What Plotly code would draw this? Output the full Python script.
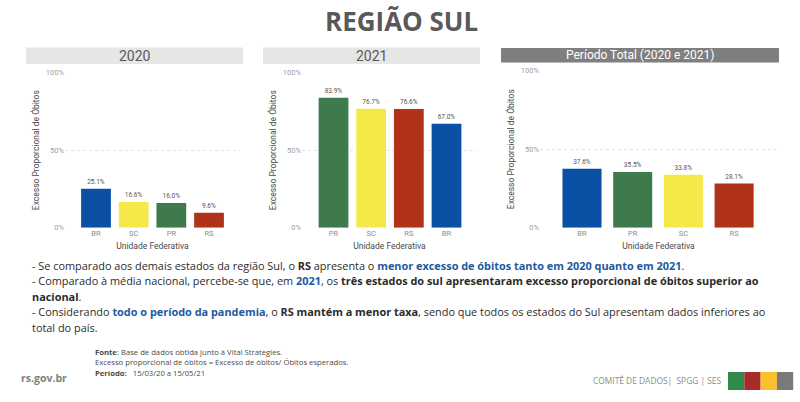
import plotly.graph_objects as go

W, H = 800, 402

# Data
states_2020 = ["BR", "SC", "PR", "RS"]
values_2020 = [25.1, 16.6, 16.0, 9.6]
states_2021 = ["PR", "SC", "RS", "BR"]
values_2021 = [83.9, 76.7, 76.6, 67.0]
states_total = ["BR", "PR", "SC", "RS"]
values_total = [37.6, 35.5, 33.8, 28.1]
y_ticks = [0, 50, 100]
y_tick_labels = ["0%", "50%", "100%"]
panel_titles = ["2020", "2021", "Período Total (2020 e 2021)"]
colors = {"BR": "#0a50a5", "SC": "#f5e94a", "PR": "#3f7a4c", "RS": "#b03218"}
logo_colors = ["#2e8b4a", "#a82a2a", "#fbc02d", "#7a7a7a"]

BLUE = "#1c5a9f"
DARK = "#2b2b2b"
TXT = "#4a4a4a"
lines = [
    ("- Se comparado aos demais estados da região Sul, o <b>RS</b> apresenta o "
     f"<span style='color:{BLUE}'><b>menor excesso de óbitos tanto em 2020 quanto em 2021</b></span>.", 265),
    (f"- Comparado à média nacional, percebe-se que, em <span style='color:{BLUE}'><b>2021</b></span>, os "
     "<b>três estados do sul apresentaram excesso proporcional de óbitos superior ao</b>", 280.5),
    ("<b>nacional</b>.", 296),
    (f"- Considerando <span style='color:{BLUE}'><b>todo o período da pandemia</b></span>, o "
     "<b>RS mantém a menor taxa</b>, sendo que todos os estados do Sul apresentam dados inferiores ao", 311),
    ("total do país.", 327),
]
foot_lines = [
    ("<b>Fonte</b>: Base de dados obtida junto à Vital Strategies.", 352),
    ("Excesso proporcional de óbitos = Excesso de óbitos/ Óbitos esperados.", 362),
    ("<b>Período:</b>   15/03/20 a 15/05/21", 373),
]


def px(x):
    return x / W


def py(y):
    return 1 - y / H


fig = go.Figure()

panels = [
    dict(states=states_2020, values=values_2020, x0=65, x1=240, c0=96, slot=37.67, bw=0.79,
         top=72.7, bot=227.7, rect=(26, 243, 47.5, 64), fill="#e6e6e6", tc="#595959", tsize=14),
    dict(states=states_2021, values=values_2021, x0=302, x1=477, c0=333.5, slot=37.67, bw=0.79,
         top=72.7, bot=227.7, rect=(263, 480, 47.5, 64), fill="#e6e6e6", tc="#595959", tsize=14),
    dict(states=states_total, values=values_total, x0=540, x1=777, c0=582, slot=50.7, bw=0.77,
         top=70.7, bot=227.7, rect=(501, 779, 48, 62.5), fill="#7f7f7f", tc="#ffffff", tsize=12),
]

shapes = []
annotations = []

for i, p in enumerate(panels):
    suffix = "" if i == 0 else str(i + 1)
    fig.add_trace(go.Bar(
        x=p["states"], y=p["values"],
        xaxis="x" + suffix, yaxis="y" + suffix,
        width=p["bw"],
        marker=dict(color=[colors[s] for s in p["states"]], line=dict(width=0)),
        text=[f"{v:.1f}%" for v in p["values"]],
        textposition="outside", cliponaxis=False,
        textfont=dict(family="Roboto", size=6.5, color="#555555"),
        showlegend=False,
    ))
    r0 = (p["x0"] - p["c0"]) / p["slot"]
    r1 = (p["x1"] - p["c0"]) / p["slot"]
    fig.update_layout({
        "xaxis" + suffix: dict(
            domain=[px(p["x0"]), px(p["x1"])], anchor="y" + suffix,
            type="category", categoryorder="array", categoryarray=p["states"],
            range=[r0, r1], showgrid=False, zeroline=False, showline=False, ticks="",
            tickfont=dict(family="Roboto", size=7.5, color="#8c8c8c"),
            title=dict(text="Unidade Federativa", standoff=5,
                       font=dict(family="Roboto", size=8.5, color="#4a4a4a")),
        ),
        "yaxis" + suffix: dict(
            domain=[py(p["bot"]), py(p["top"])], anchor="x" + suffix,
            range=[0, 100], tickvals=y_ticks, ticktext=y_tick_labels,
            showgrid=True, gridcolor="#e2e2e2", griddash="dot", gridwidth=1,
            zeroline=False, showline=False, ticks="",
            tickfont=dict(family="Roboto", size=7.5, color="#a0a0a0"),
            title=dict(text="Excesso Proporcional de Óbitos", standoff=4,
                       font=dict(family="Roboto", size=8.5, color="#4a4a4a")),
        ),
    })
    x0, x1, y0, y1 = p["rect"]
    shapes.append(dict(type="rect", xref="paper", yref="paper", x0=px(x0), x1=px(x1),
                       y0=py(y1), y1=py(y0), fillcolor=p["fill"], line=dict(width=0), layer="below"))
    annotations.append(dict(text=panel_titles[i], xref="paper", yref="paper",
                            x=px((x0 + x1) / 2), y=py((y0 + y1) / 2), xanchor="center", yanchor="middle",
                            showarrow=False, font=dict(family="Roboto", size=p["tsize"], color=p["tc"])))

annotations.append(dict(text="<b>REGIÃO SUL</b>", xref="paper", yref="paper", x=px(402), y=py(21),
                        xanchor="center", yanchor="middle", showarrow=False,
                        font=dict(family="Open Sans", size=26, color="#595959")))

for t, y in lines:
    annotations.append(dict(text=t, xref="paper", yref="paper", x=px(30), y=py(y),
                            xanchor="left", yanchor="middle", showarrow=False, align="left",
                            font=dict(family="Open Sans", size=10.9, color=DARK)))

for t, y in foot_lines:
    annotations.append(dict(text=t, xref="paper", yref="paper", x=px(93), y=py(y),
                            xanchor="left", yanchor="middle", showarrow=False, align="left",
                            font=dict(family="Open Sans", size=7.7, color=TXT)))

annotations.append(dict(text="<b>rs.gov.br</b>", xref="paper", yref="paper", x=px(19), y=py(377.5),
                        xanchor="left", yanchor="middle", showarrow=False,
                        font=dict(family="Open Sans", size=10.5, color="#7f7f7f")))
annotations.append(dict(text="COMITÊ DE DADOS|  SPGG | SES", xref="paper", yref="paper", x=px(591), y=py(380),
                        xanchor="left", yanchor="middle", showarrow=False,
                        font=dict(family="Open Sans", size=8.4, color="#8c8c8c")))

for i, c in enumerate(logo_colors):
    shapes.append(dict(type="rect", xref="paper", yref="paper",
                       x0=px(728 + i * 16.3), x1=px(728 + (i + 1) * 16.3), y0=py(390), y1=py(372),
                       fillcolor=c, line=dict(width=0)))

fig.update_layout(
    width=W, height=H, margin=dict(l=0, r=0, t=0, b=0, autoexpand=False),
    paper_bgcolor="white", plot_bgcolor="white",
    shapes=shapes, annotations=annotations,
)

fig.write_html("out.html", config={"displayModeBar": False},
               post_script="document.body.style.margin='0';document.documentElement.style.overflow='hidden';")
